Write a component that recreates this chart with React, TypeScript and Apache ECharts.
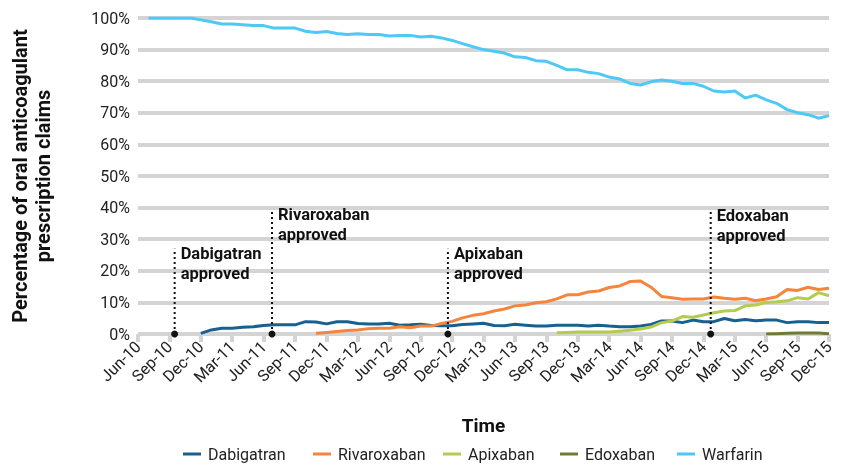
import React, { useEffect, useRef } from "react";
import * as echarts from "echarts";

const months = [
  "Jun-10", "Jul-10", "Aug-10", "Sep-10", "Oct-10", "Nov-10", "Dec-10",
  "Jan-11", "Feb-11", "Mar-11", "Apr-11", "May-11", "Jun-11", "Jul-11", "Aug-11", "Sep-11", "Oct-11", "Nov-11", "Dec-11",
  "Jan-12", "Feb-12", "Mar-12", "Apr-12", "May-12", "Jun-12", "Jul-12", "Aug-12", "Sep-12", "Oct-12", "Nov-12", "Dec-12",
  "Jan-13", "Feb-13", "Mar-13", "Apr-13", "May-13", "Jun-13", "Jul-13", "Aug-13", "Sep-13", "Oct-13", "Nov-13", "Dec-13",
  "Jan-14", "Feb-14", "Mar-14", "Apr-14", "May-14", "Jun-14", "Jul-14", "Aug-14", "Sep-14", "Oct-14", "Nov-14", "Dec-14",
  "Jan-15", "Feb-15", "Mar-15", "Apr-15", "May-15", "Jun-15", "Jul-15", "Aug-15", "Sep-15", "Oct-15", "Nov-15", "Dec-15",
];

const seriesNames = ["Dabigatran", "Rivaroxaban", "Apixaban", "Edoxaban", "Warfarin"];
const seriesColors = ["#17608f", "#f5843c", "#b3cb4e", "#6e7c33", "#4ec8f4"];

const dabigatranStart = "Dec-10";
const dabigatran = [
  0.2, 1.3, 1.8, 1.8, 2.1, 2.3, 2.7, 2.9, 2.9, 2.9, 3.9, 3.8, 3.2, 3.9, 3.9,
  3.3, 3.2, 3.2, 3.4, 2.8, 2.9, 3.1, 2.7, 2.6, 2.6, 3.0, 3.2, 3.4, 2.7, 2.6,
  3.1, 2.8, 2.5, 2.5, 2.8, 2.8, 2.8, 2.5, 2.8, 2.5, 2.3, 2.3, 2.5, 3.0, 4.1,
  4.1, 3.6, 4.4, 3.9, 3.9, 4.9, 4.2, 4.6, 4.2, 4.4, 4.4, 3.6, 3.9, 3.9, 3.6, 3.6,
];

const rivaroxabanStart = "Nov-11";
const rivaroxaban = [
  0.2, 0.5, 0.8, 1.1, 1.3, 1.7, 1.8, 1.8, 2.3, 2.0, 2.5, 2.5, 3.3, 4.0,
  5.1, 5.9, 6.4, 7.3, 7.9, 8.9, 9.2, 9.9, 10.2, 11.1, 12.4, 12.4, 13.3, 13.6, 14.7,
  15.2, 16.6, 16.8, 14.8, 11.9, 11.5, 11.0, 11.1, 11.1, 11.7, 11.3, 11.0, 11.3, 10.5, 11.1,
  11.8, 14.1, 13.8, 14.8, 14.1, 14.5,
];

const apixabanStart = "Oct-13";
const apixaban = [
  0.4, 0.5, 0.6, 0.6, 0.6, 0.6, 0.9, 1.2, 1.6, 2.2, 3.6, 4.1, 5.5, 5.3,
  6.0, 6.7, 7.3, 7.4, 8.9, 9.2, 10.0, 10.2, 10.5, 11.5, 11.1, 13.1, 12.1,
];

const edoxabanStart = "Jun-15";
const edoxaban = [0.0, 0.1, 0.2, 0.3, 0.3, 0.3, 0.1];

const warfarinStart = "Jul-10";
const warfarin = [
  100, 100, 100, 100, 100, 99.4, 98.8, 98.1, 98.1, 97.9, 97.6, 97.6, 96.8, 96.8, 96.8,
  95.8, 95.4, 95.7, 95.1, 94.8, 95.0, 94.8, 94.8, 94.3, 94.5, 94.5, 94.0, 94.2, 93.7, 92.9,
  91.9, 90.9, 90.0, 89.5, 88.9, 87.7, 87.5, 86.5, 86.3, 85.0, 83.6, 83.6, 82.8, 82.4, 81.3,
  80.7, 79.3, 78.8, 79.8, 80.4, 80.0, 79.3, 79.3, 78.4, 76.9, 76.6, 76.9, 74.7, 75.6, 74.1,
  73.0, 71.0, 70.0, 69.4, 68.3, 69.1,
];

// approval events: month position (index from Jun-10) and the height of the marker line
const approvalLabels = ["Dabigatran\napproved", "Rivaroxaban\napproved", "Apixaban\napproved", "Edoxaban\napproved"];
const approvalMonth = [3.5, 12.8, 29.6, 54.7];
const approvalLevel = [27, 39.5, 27, 39];

const FONT = "Roboto, 'DejaVu Sans', sans-serif";
const legendLeft = [183, 313, 443, 560, 677];

function toData(start: string, values: number[]) {
  const s = months.indexOf(start);
  return values.map((v, i) => [s + i, v]);
}

export default function App() {
  const ref = useRef<HTMLDivElement>(null);
  useEffect(() => {
    if (!ref.current) return;
    const chart = echarts.init(ref.current, null, { renderer: "svg" });
    const starts = [dabigatranStart, rivaroxabanStart, apixabanStart, edoxabanStart, warfarinStart];
    const vals = [dabigatran, rivaroxaban, apixaban, edoxaban, warfarin];
    const lineSeries = seriesNames.map((name, i) => ({
      name,
      type: "line",
      data: toData(starts[i], vals[i]),
      showSymbol: false,
      symbol: "none",
      lineStyle: { color: seriesColors[i], width: 3 },
      itemStyle: { color: seriesColors[i] },
      z: 3,
    }));
    const approvalSeries = approvalLabels.map((label, i) => ({
      name: "approval" + i,
      type: "line",
      silent: true,
      z: 4,
      lineStyle: { color: "#111", width: 2, type: [2, 3] },
      itemStyle: { color: "#111" },
      data: [
        { value: [approvalMonth[i], 0], symbol: "circle", symbolSize: 7 },
        {
          value: [approvalMonth[i], approvalLevel[i]],
          symbol: "circle",
          symbolSize: 0,
          label: {
            show: true,
            formatter: label,
            position: [6, -5],
            align: "left",
            verticalAlign: "top",
            fontFamily: FONT,
            fontWeight: "bold",
            fontSize: 16.5,
            lineHeight: 20,
            color: "#111",
          },
        },
      ],
    }));
    const legends = seriesNames.map((name, i) => ({
      data: [name],
      top: 446,
      left: legendLeft[i],
      padding: 0,
      icon: "rect",
      itemWidth: 18,
      itemHeight: 3,
      textStyle: { fontFamily: FONT, fontSize: 16, color: "#222", padding: [0, 0, 0, 2] },
    }));
    chart.setOption({
      animation: false,
      grid: { left: 137, right: 17, top: 18, bottom: 132, containLabel: false },
      legend: legends,
      xAxis: {
        type: "value",
        min: 0,
        max: 66,
        interval: 3,
        name: "Time",
        nameLocation: "middle",
        nameGap: 82,
        nameTextStyle: { fontFamily: FONT, fontWeight: "bold", fontSize: 19, color: "#111" },
        axisLine: { show: false },
        axisTick: { show: true, length: 8, lineStyle: { color: "#d4d4d4", width: 4 } },
        splitLine: { show: false },
        axisLabel: {
          formatter: (v: number) => months[v] ?? "",
          rotate: 45,
          margin: 10,
          fontFamily: FONT,
          fontSize: 16,
          color: "#222",
        },
      },
      yAxis: {
        type: "value",
        min: 0,
        max: 100,
        interval: 10,
        name: "Percentage of oral anticoagulant\nprescription claims",
        nameLocation: "middle",
        nameGap: 84,
        nameRotate: 90,
        nameTextStyle: { fontFamily: FONT, fontWeight: "bold", fontSize: 20, lineHeight: 23, color: "#111" },
        axisLine: { show: false },
        axisTick: { show: false },
        axisLabel: { formatter: "{value}%", margin: 8, fontFamily: FONT, fontSize: 16, color: "#222" },
        splitLine: { show: true, lineStyle: { color: "#d4d4d4", width: 4 } },
      },
      series: [...lineSeries, ...approvalSeries],
    });
    return () => chart.dispose();
  }, []);
  return <div ref={ref} style={{ position: "fixed", left: 0, top: 0, width: 846, height: 466 }} />;
}
